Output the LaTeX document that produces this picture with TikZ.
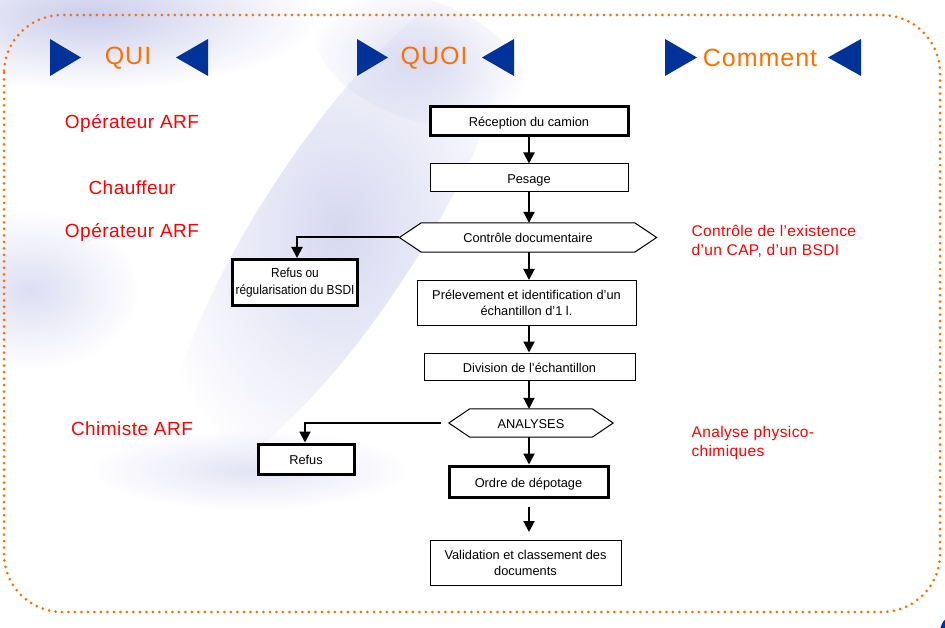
\documentclass[tikz,border=0pt]{standalone}
\usepackage{fontspec}
\setmainfont{Liberation Sans}
\newfontfamily\spacedfont[LetterSpace=2.5]{Liberation Sans}
\newfontfamily\headfont[LetterSpace=4]{Liberation Sans}
\newfontfamily\narrowfont[FakeStretch=0.9]{Liberation Sans}
\usetikzlibrary{arrows.meta,fadings}
\tikzfading[name=softfade, inner color=transparent!0, outer color=transparent!100]
\definecolor{arfred}{RGB}{255,0,0}
\definecolor{arforange}{RGB}{255,112,0}
\definecolor{arfblue}{RGB}{0,51,153}
\definecolor{lav}{RGB}{198,200,234}
\tikzset{
  flowbox/.style={draw=black, line width=1pt, fill=white, align=center, inner sep=2pt,
    font=\fontsize{12.8}{16}\selectfont},
  oneline/.style={text height=11.5pt, text depth=0.5pt},
  thickbox/.style={flowbox, line width=3pt},
  hexnode/.style={draw=none, align=center, font=\fontsize{12.8}{16}\selectfont},
  hexline/.style={line width=1pt, fill=white},
  arr/.style={line width=2pt, -{Triangle[length=11pt,width=11pt]}},
  qui/.style={text=arfred, font=\spacedfont\fontsize{19}{23}\selectfont},
  comm/.style={text=arfred, font=\spacedfont\fontsize{15.5}{19}\selectfont, align=left, anchor=west},
  head/.style={text=arforange, font=\headfont\fontsize{25}{28}\selectfont},
  tri/.style={fill=arfblue},
  blob/.style={fill=lav, path fading=softfade},
  border/.style={draw=arforange, line width=3pt, line cap=round, dash pattern=on 0pt off 6.5pt, rounded corners=58pt}
}
\begin{document}
\begin{tikzpicture}[x=1pt,y=-1pt]
\useasboundingbox (0,0) rectangle (945,628);
% background swooshes
\begin{scope}
\clip (0,0) rectangle (945,628);
\fill[blob, opacity=0.9] (90,15) ellipse [x radius=230, y radius=75];
\fill[blob, opacity=0.7, rotate around={57:(340,230)}] (340,230) ellipse [x radius=290, y radius=80];
\fill[blob, opacity=0.6, rotate around={-20:(420,60)}] (420,60) ellipse [x radius=110, y radius=60];
\fill[blob, opacity=0.6] (30,290) ellipse [x radius=110, y radius=80];
\fill[blob, opacity=0.5] (250,470) ellipse [x radius=160, y radius=40];
\draw[arfblue, line width=4pt] (958,632) circle [radius=16];
\end{scope}
% dotted border
\draw[border] (4,15) rectangle (940,612);
% headers
\fill[tri] (50,39) -- (81,57.5) -- (50,76) -- cycle;
\node[head] (hqui) at (128,58) {QUI};
\fill[tri] (208,39) -- (176,57.5) -- (208,76) -- cycle;
\fill[tri] (357,39) -- (388,57.5) -- (357,76) -- cycle;
\node[head] (hquoi) at (434,58) {QUOI};
\fill[tri] (514,39) -- (482,57.5) -- (514,76) -- cycle;
\fill[tri] (665,39) -- (697,57.5) -- (665,76) -- cycle;
\node[head] (hcomm) at (760,58) {Comment};
\fill[tri] (861,39) -- (828,57.5) -- (861,76) -- cycle;
% QUI labels
\node[qui] (q1) at (132,123) {Opérateur ARF};
\node[qui] (q2) at (132,188) {Chauffeur};
\node[qui] (q3) at (132,232) {Opérateur ARF};
\node[qui] (q4) at (132,429) {Chimiste ARF};
% Comment labels
\node[comm] (c1) at (688,241) {Contrôle de l’existence\\d’un CAP, d’un BSDI};
\node[comm] (c2) at (688,443) {Analyse physico-\\chimiques};
% flow
\node[thickbox, oneline, minimum width=198pt, minimum height=29pt] (rec) at (529,121.5) {Réception du camion};
\node[flowbox, oneline, minimum width=198pt, minimum height=28pt] (pes) at (529,178) {Pesage};
\node[hexnode, minimum width=257pt, minimum height=29pt] (cd) at (528,237.5) {};
\draw[hexline] (cd.west) -- ([xshift=22pt]cd.north west) -- ([xshift=-22pt]cd.north east) -- (cd.east) -- ([xshift=-22pt]cd.south east) -- ([xshift=22pt]cd.south west) -- cycle;
\node[hexnode, oneline] (cdt) at (cd.center) {Contrôle documentaire};
\node[flowbox, minimum width=219pt, minimum height=45pt] (pre) at (526.5,303) {Prélevement et identification d’un\\échantillon d’1 l.};
\node[thickbox, minimum width=125pt, minimum height=46pt, inner sep=1pt, font=\narrowfont\fontsize{13.2}{17.5}\selectfont] (bsdi) at (295,282.5) {Refus ou\\régularisation du BSDI};
\node[flowbox, oneline, minimum width=211pt, minimum height=27pt] (div) at (529.5,366.5) {Division de l’échantillon};
\node[hexnode, minimum width=164pt, minimum height=28pt] (ana) at (531,423) {};
\draw[hexline] (ana.west) -- ([xshift=21pt]ana.north west) -- ([xshift=-21pt]ana.north east) -- (ana.east) -- ([xshift=-21pt]ana.south east) -- ([xshift=21pt]ana.south west) -- cycle;
\node[hexnode, oneline] (anat) at (ana.center) {ANALYSES};
\node[thickbox, oneline, minimum width=96pt, minimum height=30pt] (ref) at (306,459) {Refus};
\node[thickbox, oneline, minimum width=159pt, minimum height=31pt] (ord) at (528.5,481.5) {Ordre de dépotage};
\node[flowbox, minimum width=191pt, minimum height=45pt] (val) at (525.5,563) {Validation et classement des\\documents};
% connectors
\draw[arr] (rec.south) -- (pes.north);
\draw[arr] (pes.south) -- (pes.south |- cd.north);
\draw[arr] (pes.south |- cd.south) -- (pes.south |- pre.north);
\draw[arr] (pes.south |- pre.south) -- (pes.south |- div.north);
\draw[arr] (pes.south |- div.south) -- (pes.south |- ana.north);
\draw[arr] (pes.south |- ana.south) -- (pes.south |- ord.north);
\draw[arr, shorten <=8pt, shorten >=8pt] (pes.south |- ord.south) -- (pes.south |- val.north);
\draw[arr] (cd.west) -| ([xshift=2pt]bsdi.north);
\draw[arr] ([xshift=-8pt]ana.west) -| ([xshift=-1pt]ref.north);
\end{tikzpicture}
\end{document}
